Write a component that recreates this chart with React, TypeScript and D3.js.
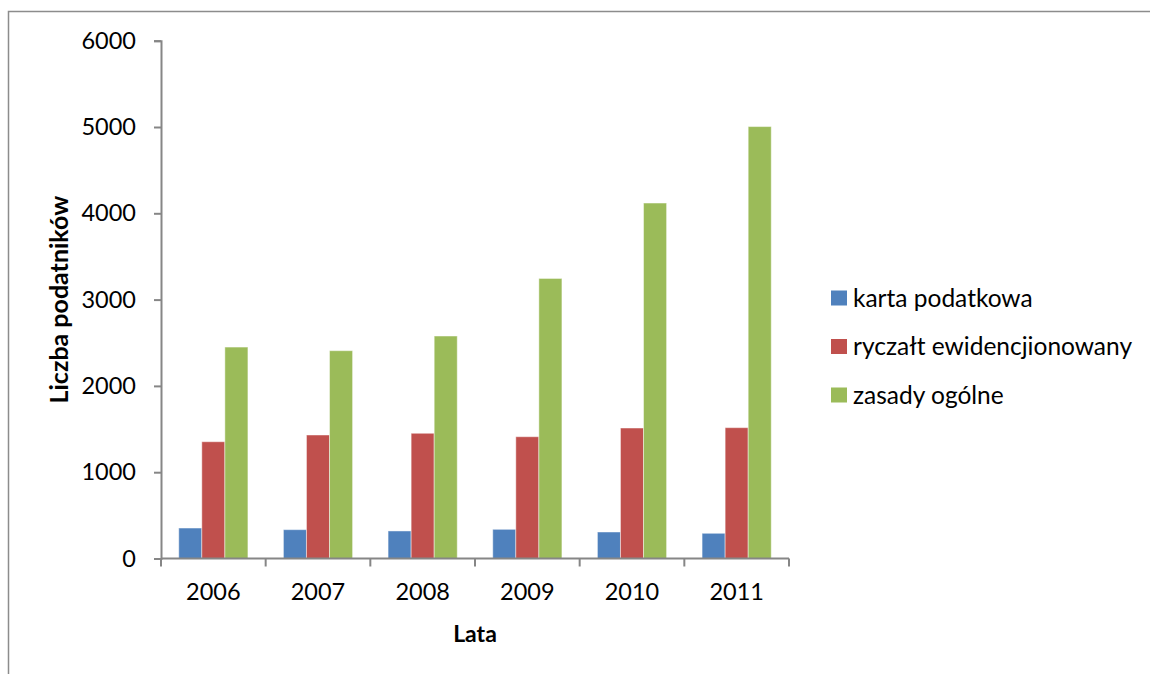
import { useEffect, useRef } from "react";
import * as d3 from "d3";

const years = ["2006", "2007", "2008", "2009", "2010", "2011"];
const seriesNames = [
  "karta podatkowa",
  "ryczałt ewidencjionowany",
  "zasady ogólne",
];
const kartaPodatkowa = [353, 334, 319, 338, 307, 292];
const ryczalt = [1353, 1431, 1451, 1411, 1512, 1516];
const zasadyOgolne = [2450, 2408, 2578, 3245, 4119, 5005];
const yTicks = [0, 1000, 2000, 3000, 4000, 5000, 6000];
const colors = ["#4F81BD", "#C0504D", "#9BBB59"];

const FONT = "Lato, 'Open Sans', sans-serif";

export default function App() {
  const svgRef = useRef<SVGSVGElement>(null);

  useEffect(() => {
    if (!svgRef.current) return;
    const svg = d3.select(svgRef.current);
    svg.selectAll("*").remove();

    const values = [kartaPodatkowa, ryczalt, zasadyOgolne];
    const plot = { left: 161, right: 789, top: 40.7, bottom: 558.5 };

    // ramka wykresu
    svg
      .append("path")
      .attr("d", "M8.5,1000 V11.5 H1200")
      .attr("fill", "none")
      .attr("stroke", "#8c8c8c")
      .attr("stroke-width", 1.5);

    const x0 = d3
      .scaleBand<string>()
      .domain(years)
      .range([plot.left, plot.right])
      .padding(0);
    const x1 = d3
      .scaleBand<string>()
      .domain(seriesNames)
      .range([0, x0.bandwidth()])
      .paddingInner(0)
      .paddingOuter(0.77);
    const y = d3
      .scaleLinear()
      .domain([0, 6000])
      .range([plot.bottom, plot.top]);

    // słupki
    const groups = svg
      .append("g")
      .selectAll("g")
      .data(years)
      .enter()
      .append("g")
      .attr("transform", (d) => `translate(${x0(d)},0)`);
    groups.each(function (year, i) {
      const g = d3.select(this);
      seriesNames.forEach((s, si) => {
        const v = values[si][i];
        g.append("rect")
          .attr("x", x1(s)!)
          .attr("y", y(v))
          .attr("width", x1.bandwidth())
          .attr("height", y(0) - y(v))
          .attr("fill", colors[si])
          .attr("stroke", "rgba(255,255,255,0.45)")
          .attr("stroke-width", 1);
      });
    });

    // oś Y
    const yAxis = d3
      .axisLeft(y)
      .tickValues(yTicks)
      .tickSize(7)
      .tickPadding(18)
      .tickFormat((d) => `${d}`);
    const gy = svg
      .append("g")
      .attr("transform", `translate(${plot.left},0)`)
      .call(yAxis);
    gy.select(".domain").attr("stroke", "#868686").attr("stroke-width", 2);
    gy.selectAll(".tick line").attr("stroke", "#868686").attr("stroke-width", 2);
    gy.selectAll(".tick text")
      .attr("font-family", FONT)
      .attr("font-size", 23.5)
      .attr("fill", "#000");

    // oś X
    svg
      .append("line")
      .attr("x1", plot.left)
      .attr("x2", plot.right)
      .attr("y1", y(0))
      .attr("y2", y(0))
      .attr("stroke", "#868686")
      .attr("stroke-width", 2);
    const boundaries = [...years.map((d) => x0(d)!), plot.right];
    svg
      .append("g")
      .selectAll("line")
      .data(boundaries)
      .enter()
      .append("line")
      .attr("x1", (d) => d)
      .attr("x2", (d) => d)
      .attr("y1", y(0))
      .attr("y2", y(0) + 8)
      .attr("stroke", "#868686")
      .attr("stroke-width", 2);
    svg
      .append("g")
      .selectAll("text")
      .data(years)
      .enter()
      .append("text")
      .attr("x", (d) => x0(d)! + x0.bandwidth() / 2)
      .attr("y", 600)
      .attr("text-anchor", "middle")
      .attr("font-family", FONT)
      .attr("font-size", 23.5)
      .text((d) => d);

    // tytuły osi
    svg
      .append("text")
      .attr("x", (plot.left + plot.right) / 2)
      .attr("y", 642)
      .attr("text-anchor", "middle")
      .attr("font-family", FONT)
      .attr("font-weight", "bold")
      .attr("font-size", 23)
      .text("Lata");
    svg
      .append("text")
      .attr(
        "transform",
        `translate(68,${(plot.top + plot.bottom) / 2}) rotate(-90)`
      )
      .attr("text-anchor", "middle")
      .attr("font-family", FONT)
      .attr("font-weight", "bold")
      .attr("font-size", 25)
      .text("Liczba podatników");

    // legenda
    const legend = svg
      .append("g")
      .selectAll("g")
      .data(seriesNames)
      .enter()
      .append("g")
      .attr("transform", (_, i) => `translate(831,${298 + i * 48.5})`);
    legend
      .append("rect")
      .attr("x", 0)
      .attr("y", -7.5)
      .attr("width", 16)
      .attr("height", 15)
      .attr("fill", (_, i) => colors[i]);
    legend
      .append("text")
      .attr("x", 22)
      .attr("y", 8.5)
      .attr("font-family", FONT)
      .attr("font-size", 24.5)
      .text((d) => d);
  }, []);

  return (
    <svg
      ref={svgRef}
      width={1150}
      height={674}
      style={{ position: "fixed", left: 0, top: 0, background: "#fff" }}
    />
  );
}
